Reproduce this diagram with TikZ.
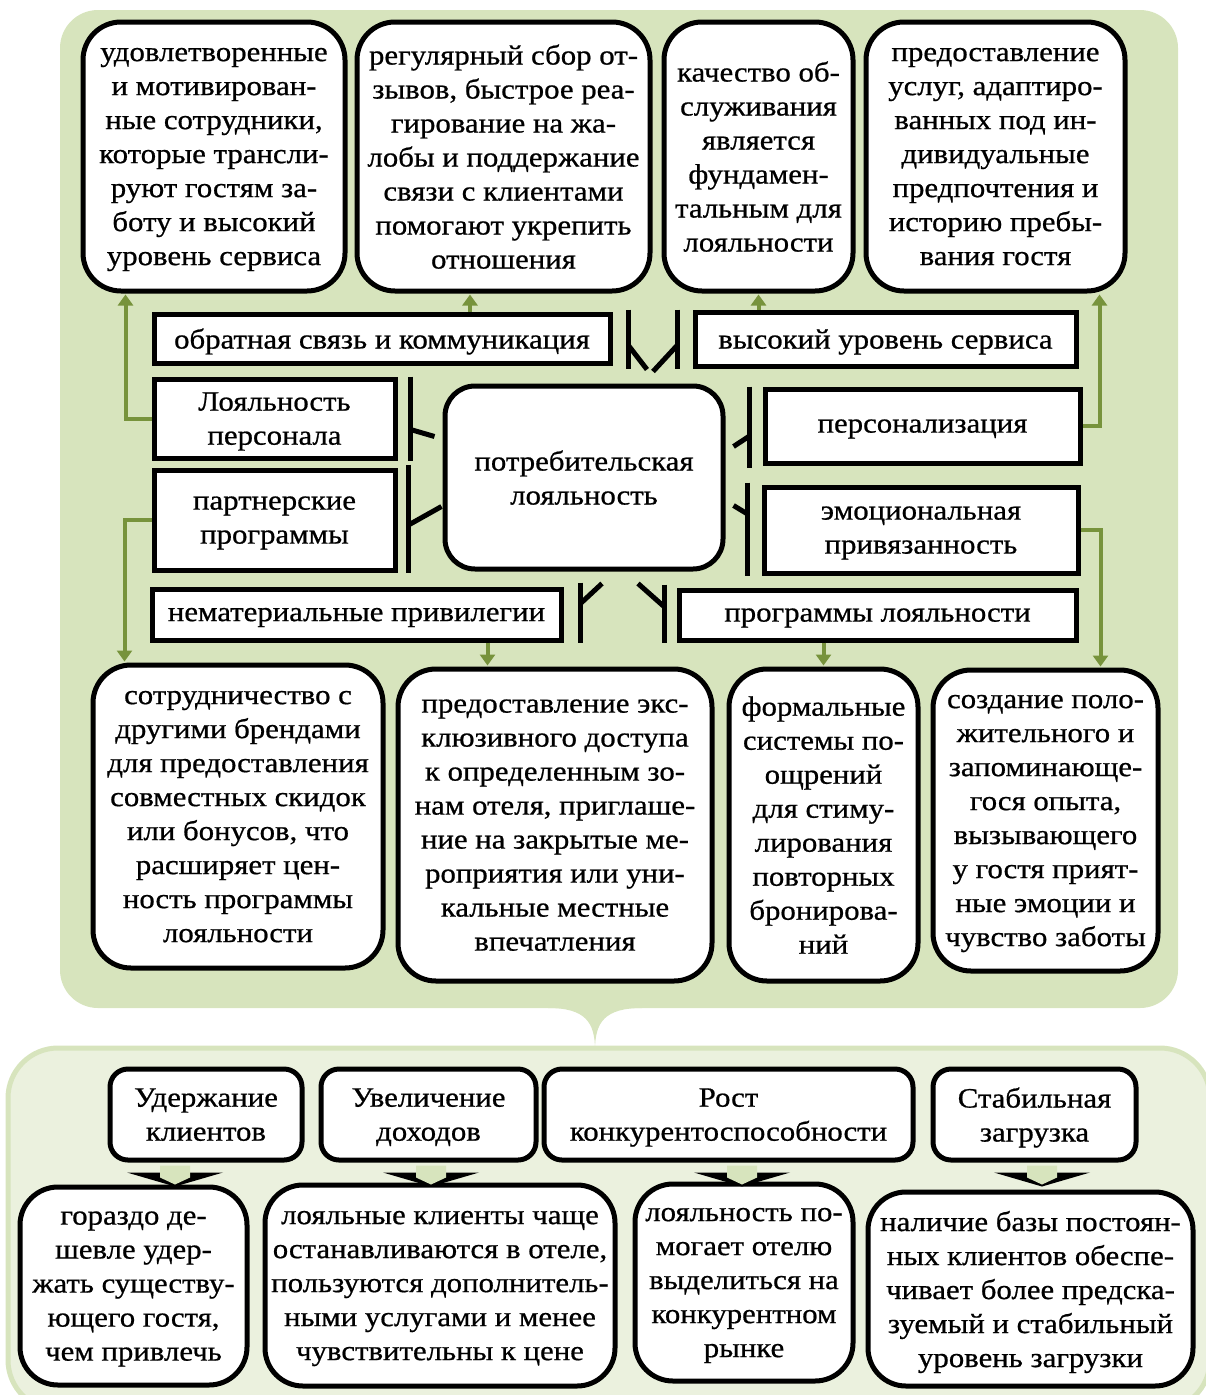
\documentclass[tikz,border=0pt]{standalone}
\usepackage{fontspec}
\setmainfont{Liberation Serif}[FakeStretch=1.1, FakeBold=0.7]
\usepackage{tikz}
\usetikzlibrary{arrows.meta, calc, positioning}
\definecolor{panelgreen}{HTML}{D7E4BD}
\definecolor{panellight}{HTML}{EBF1DE}
\definecolor{arrowgreen}{HTML}{77933C}

\begin{document}
\begin{tikzpicture}[x=1pt, y=-1pt,
    every node/.style={font=\fontsize{28}{34}\selectfont, align=center, inner sep=0pt, text depth=-4pt},
    card/.style={draw, line width=5pt, fill=white, rounded corners=38pt},
    tag/.style={draw, line width=5pt, fill=white},
    head/.style={draw, line width=5pt, fill=white, rounded corners=18pt},
    bar/.style={line width=5pt},
    garrow/.style={arrowgreen, line width=4pt, shorten >=1pt, -{Triangle[width=15pt,length=11pt]}}]
    \useasboundingbox (0,0) rectangle (1206,1395);

    % Upper panel with its tip
    \fill[panelgreen, rounded corners=38pt] (60,10) rectangle (1178,1008);
    \fill[panelgreen] (548,1000) -- (548,1008) .. controls (585,1008) and (595,1022) .. (595,1050)
        .. controls (595,1022) and (605,1008) .. (642,1008) -- (642,1000) -- cycle;

    % Lower panel
    \begin{scope}
        \clip (0,0) rectangle (1206,1395);
        \draw[panelgreen, fill=panellight, line width=5pt, rounded corners=50pt] (8,1048) rectangle (1210,1410);
    \end{scope}

    % Top row
    \node[card, minimum width=262pt, minimum height=269pt] (top1) at (214,156.5) {удовлетворенные\\и мотивирован-\\ные сотрудники,\\которые трансли-\\руют гостям за-\\боту и высокий\\уровень сервиса};
    \node[card, minimum width=293pt, minimum height=269pt] (top2) at (503.5,156.5) {регулярный сбор от-\\зывов, быстрое реа-\\гирование на жа-\\лобы и поддержание\\связи с клиентами\\помогают укрепить\\отношения};
    \node[card, minimum width=189pt, minimum height=269pt] (top3) at (758.5,156.5) {качество об-\\служивания\\является\\фундамен-\\тальным для\\лояльности};
    \node[card, minimum width=259pt, minimum height=269pt] (top4) at (995.5,156.5) {предоставление\\услуг, адаптиро-\\ванных под ин-\\дивидуальные\\предпочтения и\\историю пребы-\\вания гостя};

    % Centre and its factors
    \node[card, rounded corners=30pt, minimum width=278pt, minimum height=183pt] (cons) at (584,477.5) {потребительская\\лояльность};
    \node[tag, minimum width=456pt, minimum height=49pt] (comm) at (382,338.5) {обратная связь и коммуникация};
    \node[tag, minimum width=381pt, minimum height=54pt] (serv) at (885.5,339) {высокий уровень сервиса};
    \node[tag, minimum width=241pt, minimum height=79pt] (staff) at (274.5,418.5) {Лояльность\\персонала};
    \node[tag, minimum width=241pt, minimum height=100pt] (partn) at (274.5,520) {партнерские\\программы};
    \node[tag, minimum width=315pt, minimum height=74pt] (pers) at (922.5,426) {персонализация};
    \node[tag, minimum width=314pt, minimum height=86pt] (emo) at (921,530) {эмоциональная\\привязанность};
    \node[tag, minimum width=409pt, minimum height=51pt] (priv) at (356.5,614.5) {нематериальные привилегии};
    \node[tag, minimum width=397pt, minimum height=50pt] (prog) at (877.5,615) {программы лояльности};

    % Brackets towards the centre
    \draw[bar] ([xshift=13pt]staff.north east) -- ([xshift=13pt]staff.south east);
    \draw[bar] ([xshift=13pt,yshift=-11pt]staff.east) -- ([xshift=-8pt,yshift=41pt]cons.west);
    \draw[bar] ([xshift=11pt,yshift=3pt]partn.north east) -- ([xshift=11pt]partn.south east);
    \draw[bar] ([xshift=11pt,yshift=-5pt]partn.east) -- ([xshift=-1pt,yshift=-29pt]cons.west);
    \draw[bar] ([xshift=-13pt]pers.north west) -- ([xshift=-13pt,yshift=-2pt]pers.south west);
    \draw[bar] ([xshift=-13pt,yshift=-10pt]pers.west) -- ([xshift=8pt,yshift=31pt]cons.east);
    \draw[bar] ([xshift=-14pt,yshift=2pt]emo.north west) -- ([xshift=-14pt]emo.south west);
    \draw[bar] ([xshift=-14pt,yshift=16pt]emo.west) -- ([xshift=8pt,yshift=-28pt]cons.east);
    \draw[bar] ([xshift=16pt,yshift=2pt]comm.north east) -- ([xshift=16pt,yshift=-3pt]comm.south east);
    \draw[bar] ([xshift=16pt,yshift=-7pt]comm.east) -- ([xshift=63pt,yshift=14pt]cons.north);
    \draw[bar] ([xshift=-15pt]serv.north west) -- ([xshift=-15pt]serv.south west);
    \draw[bar] ([xshift=-15pt,yshift=-6pt]serv.west) -- ([xshift=69pt,yshift=12pt]cons.north);
    \draw[bar] ([xshift=17pt,yshift=4pt]priv.north east) -- ([xshift=17pt]priv.south east);
    \draw[bar] ([xshift=17pt,yshift=11pt]priv.east) -- ([xshift=18pt,yshift=-12pt]cons.south);
    \draw[bar] ([xshift=-12pt,yshift=3pt]prog.north west) -- ([xshift=-12pt]prog.south west);
    \draw[bar] ([xshift=-12pt,yshift=8pt]prog.west) -- ([xshift=54pt,yshift=-12pt]cons.south);

    % Bottom row
    \node[card, minimum width=290pt, minimum height=303pt] (bot1) at (238,816.5) {сотрудничество с\\другими брендами\\для предоставления\\совместных скидок\\или бонусов, что\\расширяет цен-\\ность программы\\лояльности};
    \node[card, minimum width=314pt, minimum height=312pt] (bot2) at (555,825) {предоставление экс-\\клюзивного доступа\\к определенным зо-\\нам отеля, приглаше-\\ние на закрытые ме-\\роприятия или уни-\\кальные местные\\впечатления};
    \node[card, minimum width=189pt, minimum height=312pt] (bot3) at (823.5,825) {формальные\\системы по-\\ощрений\\для стиму-\\лирования\\повторных\\бронирова-\\ний};
    \node[card, minimum width=225pt, minimum height=301pt] (bot4) at (1045.5,820.5) {создание поло-\\жительного и\\запоминающе-\\гося опыта,\\вызывающего\\у гостя прият-\\ные эмоции и\\чувство заботы};

    % Green arrows
    \coordinate (c2) at ([xshift=88pt]comm.north);
    \coordinate (c6) at ([xshift=131pt]priv.south);
    \draw[garrow] (staff.west) -| ([xshift=45pt]top1.south west);
    \draw[garrow] (c2) -- (c2 |- top2.south);
    \draw[garrow] (serv.north -| top3.south) -- (top3.south);
    \draw[garrow] (pers.east) -| ([xshift=-28pt]top4.south east);
    \draw[garrow] (partn.west) -| ([xshift=34pt]bot1.north west);
    \draw[garrow] (c6) -- (c6 |- bot2.north);
    \draw[garrow] (prog.south -| bot3.north) -- (bot3.north);
    \draw[garrow] (emo.east) -| ([xshift=-60pt]bot4.north east);

    % Effects
    \node[head, minimum width=192pt, minimum height=91pt] (h1) at (206,1114.5) {Удержание\\клиентов};
    \node[head, minimum width=215pt, minimum height=91pt] (h2) at (428.5,1114.5) {Увеличение\\доходов};
    \node[head, minimum width=369pt, minimum height=91pt] (h3) at (728.5,1114.5) {Рост\\конкурентоспособности};
    \node[head, minimum width=203pt, minimum height=91pt] (h4) at (1034.5,1114.5) {Стабильная\\загрузка};

    \node[card, minimum width=227pt, minimum height=198pt] (d1) at (133.5,1286) {гораздо де-\\шевле удер-\\жать существу-\\ющего гостя,\\чем привлечь};
    \node[card, minimum width=350pt, minimum height=201pt] (d2) at (440,1285.5) {лояльные клиенты чаще\\останавливаются в отеле,\\пользуются дополнитель-\\ными услугами и менее\\чувствительны к цене};
    \node[card, minimum width=218pt, minimum height=197pt] (d3) at (744,1282.5) {лояльность по-\\могает отелю\\выделиться на\\конкурентном\\рынке};
    \node[card, minimum width=325pt, minimum height=194pt] (d4) at (1030.5,1289) {наличие базы постоян-\\ных клиентов обеспе-\\чивает более предска-\\зуемый и стабильный\\уровень загрузки};

    % Block arrows
    \foreach \ax/\hn in {175/h1, 431/h2, 742/h3, 1042/h4} {
        \fill (\ax,0 |- \hn.south) ++(-48,10) -- ++(96,0) -- ++(-48,14) -- cycle;
        \fill[panelgreen] (\ax,0 |- \hn.south) ++(-15,3) -- ++(30,0) -- ++(0,12) -- ++(-15,7) -- ++(-15,-7) -- cycle;
    }
\end{tikzpicture}
\end{document}
